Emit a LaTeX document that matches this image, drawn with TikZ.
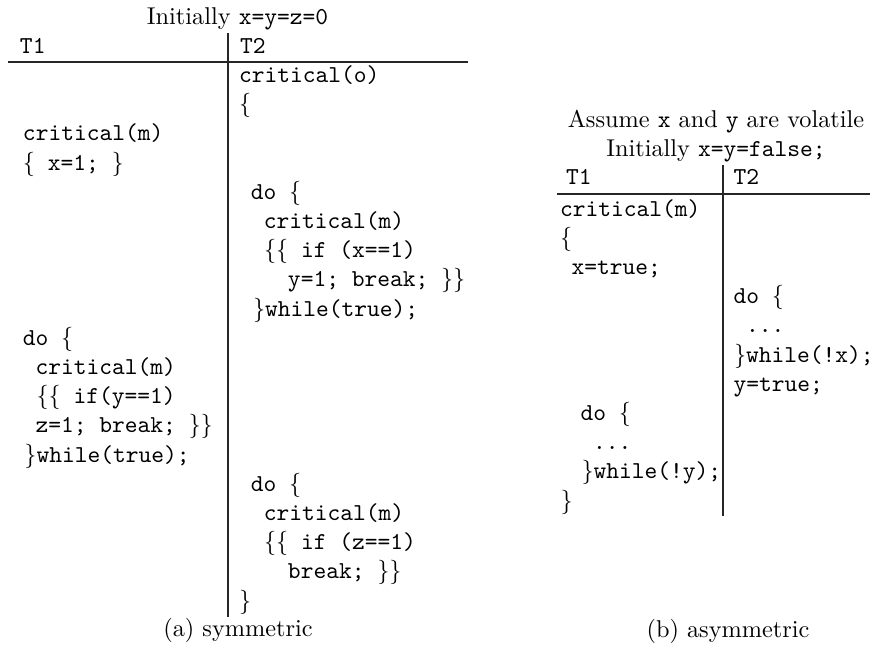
\documentclass[tikz,border=0pt]{standalone}
\newcommand\obr{$\{$}
\newcommand\cbr{$\}$}
\begin{document}
\begin{tikzpicture}[x=0.4115pt,y=-0.4115pt,
  code/.style={font=\ttfamily, anchor=base west, inner sep=0pt, outer sep=0pt},
  head/.style={anchor=base, inner sep=0pt, outer sep=0pt},
  tabrule/.style={line width=0.5pt, black!85}]
\useasboundingbox (0,0) rectangle (870,645);
% ---------------- (a) symmetric ----------------
\node[head] (ah) at (237.5,24) {Initially \texttt{x=y=z=0}};
\node[code] (at1) at (20,53.5) {T1};
\node[code] (at2) at (240,53.5) {T2};
\coordinate (ahl) at (8,62);
\coordinate (ahr) at (468,62);
\coordinate (avt) at (228,33);
\coordinate (avb) at (228,617);
\draw[tabrule] (ahl) -- (ahr);
\draw[tabrule] (avt) -- (avb);
% T2 column
\node[code] (a0) at (239,82.5) {critical(o)};
\node[code] (a1) at (239,111.7) {\obr};
\node[code] (a4) at (250.8,199.3) {do \obr};
\node[code] (a5) at (263.8,228.5) {critical(m)};
\node[code] (a6) at (264,257.7) {\obr\obr{} if (x==1)};
\node[code] (a7) at (288,286.9) {y=1; break; \cbr\cbr};
\node[code] (a8) at (253,316.1) {\cbr while(true);};
\node[code] (a14) at (250.8,491.3) {do \obr};
\node[code] (a15) at (263.8,520.5) {critical(m)};
\node[code] (a16) at (264,549.7) {\obr\obr{} if (z==1)};
\node[code] (a17) at (288,578.9) {break; \cbr\cbr};
\node[code] (a18) at (239,608.1) {\cbr};
% T1 column
\node[code] (a2) at (23,140.9) {critical(m)};
\node[code] (a3) at (23,170.1) {\obr{} x=1; \cbr};
\node[code] (a9) at (22.8,345.3) {do \obr};
\node[code] (a10) at (35.5,374.5) {critical(m)};
\node[code] (a11) at (36.5,403.7) {\obr\obr{} if(y==1)};
\node[code] (a12) at (35.5,432.9) {z=1; break; \cbr\cbr};
\node[code] (a13) at (24.5,462.1) {\cbr while(true);};
\node[head] (acap) at (238,636) {(a) symmetric};
% ---------------- (b) asymmetric ----------------
\node[head] (bh1) at (716,127) {Assume \texttt{x} and \texttt{y} are volatile};
\node[head] (bh2) at (716,156) {Initially \texttt{x=y=false;}};
\node[code] (bt1) at (566,184.5) {T1};
\node[code] (bt2) at (733.5,184.5) {T2};
\coordinate (bhl) at (557,194);
\coordinate (bhr) at (870,194);
\coordinate (bvt) at (723,165);
\coordinate (bvb) at (723,516);
\draw[tabrule] (bhl) -- (bhr);
\draw[tabrule] (bvt) -- (bvb);
\node[code] (b0) at (560,216) {critical(m)};
\node[code] (b1) at (560,245.2) {\obr};
\node[code] (b2) at (571.5,274.4) {x=true;};
\node[code] (b3) at (733.5,303.6) {do \obr};
\node[code] (b4) at (746,332.8) {...};
\node[code] (b5) at (734,362) {\cbr while(!x);};
\node[code] (b6) at (733.5,391.2) {y=true;};
\node[code] (b7) at (580.5,420.4) {do \obr};
\node[code] (b8) at (593,449.6) {...};
\node[code] (b9) at (581.5,478.8) {\cbr while(!y);};
\node[code] (b10) at (560.5,508) {\cbr};
\node[head] (bcap) at (728,637) {(b) asymmetric};
\end{tikzpicture}
\end{document}
